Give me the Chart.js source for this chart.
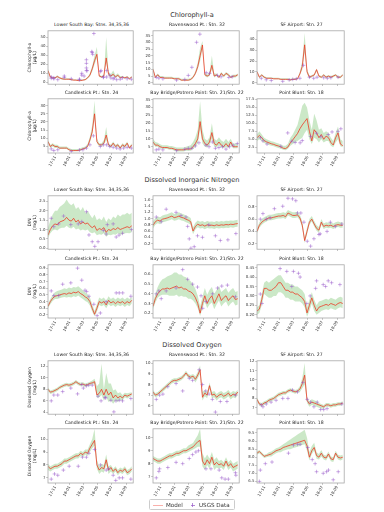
<!DOCTYPE html>
<html><head><meta charset="utf-8">
<script src="https://cdn.jsdelivr.net/npm/chart.js@4.4.1/dist/chart.umd.min.js"></script>
<style>
body{margin:0;background:#fff;font-family:'DejaVu Sans',sans-serif;}
#fig{position:relative;width:384px;height:512px;overflow:hidden;background:#fff;}
.sec{position:absolute;left:0;width:384px;text-align:center;font-size:6.6px;color:#333;line-height:8px;opacity:0.99;}
.ptitle{position:absolute;text-align:center;font-size:4.6px;color:#222;line-height:6px;white-space:nowrap;opacity:0.99;}
canvas{position:absolute;}
#legend{position:absolute;left:149px;top:499px;width:86px;height:11px;border:0.6px solid #ccc;border-radius:1.5px;box-sizing:border-box;font-size:5.6px;color:#333;opacity:0.99;}
#legend span{position:absolute;top:0;line-height:10px;}
</style></head><body><div id="fig"></div>
<script>
// ---------- shared axis data ----------
const DAYS = [0,10,20,30,40,50,60,70,80,90,100,110,120,130,140,150,160,170,180,190,200,210,220,230,240,250,260,270,280,290,300,310,320,330,340,350,360];
const X_TICK_DAYS = [32,93,152,213,274,336];
const X_TICK_LABELS = ['17-11','18-01','18-03','18-05','18-07','18-09'];
const SECTION_TITLES = ['Chlorophyll-a','Dissolved Inorganic Nitrogen','Dissolved Oxygen'];
const Y_LABELS = [['Chlorophyll-a','(µg/L)'],['DIN','(mg/L)'],['Dissolved Oxygen','(mg/L)']];
const STATIONS = ['Lower South Bay: Stns. 34,35,36','Ravenswood Pt.: Stn. 32','SF Airport: Stn. 27','Candlestick Pt.: Stn. 24','Bay Bridge/Potrero Point: Stn. 21/Stn. 22','Point Blunt: Stn. 18'];

// ---------- Chlorophyll-a ----------
const chlLsbM  = [13,6,5,5,6.5,5,4,3.5,3.5,3.5,3,2.5,2.5,2,2,2.5,3,5,8,15,24,31,7,6,7,27,9,7,9,6,8,5,6,5,6,4,6];
const chlLsbHi = [15,7,6,6,8,6,5,4.5,4.5,4.5,4,3.5,3.5,3,3,3.5,4,6,10,18,30,39,9,7,9,50,12,9,13,8,10,7,7,6,7,5,7];
const chlLsbLo = [11,5,4,4,5.5,4,3,3,3,3,2.5,2,2,1.5,1.5,2,2.5,4,6.5,12,20,27,6,5,6,22,7,6,7,5,6.5,4,5,4,5,3.5,5];
const chlLsbOx = [14,14,25,25,42,70,70,100,135,135,145,145,155,165,165,165,165,168,188,190,192,197,225,228,238,238,252,252,265,270,280,285,295,310,320,340,358];
const chlLsbOy = [6,4.5,4,5,3,5.5,7,4,3,3.5,8,10,7,13,16,21,25,13,34,33,31,54,12,13,6,5.5,13,6,8,5,4,5,3,3.5,5,4,3.5];
const chlLsbRange = [-2,57]; const chlLsbTicks = ['0','10','20','30','40','50'];

const chlRavM  = [10,4,6,4,4,3.5,3.5,3.5,3.5,3,3,3,2,2,2,2,2.5,4,7,12,20,28,6,5,6,13,5,6,4,7,5,7,6,4,5,5,6];
const chlRavHi = [11,5,7,5,5,4.5,4.5,4.5,4.5,4,4,4,3,3,3,3,3.5,5,8.5,15,26,31,8,6,8,20,7,7,5,8,6,8,7,5,6,6,7];
const chlRavLo = [9,3.5,5,3.5,3.5,3,3,3,3,2.5,2.5,2.5,1.5,1.5,1.5,1.5,2,3.5,6,10,16,25,5,4,5,10,4,5,3.5,6,4,6,5,3.5,4,4,5];
const chlRavOx = [14,25,42,100,135,150,165,185,199,226,240,274,289,322,336];
const chlRavOy = [4,3.5,3,2,2.5,5.5,11.5,30,36,7.5,7,5.5,4.5,4,4.5];
const chlRavRange = [-1,38.5]; const chlRavTicks = ['0','5','10','15','20','25','30','35'];

const chlSfaM  = [10,5,7,5,4,4,4,3.5,3.5,3.5,3,3,3,3,2.5,3,3,3.5,8,15,35,10,5,6,7,12,6,5,7,5,6,5,6,7,5,5,7];
const chlSfaHi = [11,6,8,6,5,5,5,4.5,4.5,4.5,4,4,4,4,3.5,4,4,4.5,10,20,46,13,6,7,8,13,7,6,8,6,7,6,7,8,6,6,8];
const chlSfaLo = [9,4,6,4,3.5,3.5,3.5,3,3,3,2.5,2.5,2.5,2.5,2,2.5,2.5,3,7,12,28,8,4,5,6,10,5,4,6,4,5,4,5,6,4,4,6];
const chlSfaOx = [18,39,60,108,135,150,165,180,195,220,238,252,280,295,310,340];
const chlSfaOy = [4,2.6,2,1.2,2.5,3,3.5,4,16,5,4,5,4.5,4,4.5,5];
const chlSfaRange = [-1.5,48]; const chlSfaTicks = ['0','10','20','30','40'];

const chlCanM  = [8,5,6,5,5,4,4,4,4,3,2.5,2.5,2.5,2.5,3,3.5,4,5,9,14,25,8,6,6,7,12,6,5,7,5,6,4,6,5,7,4,6];
const chlCanHi = [9,6,7,6,6,5,5,5,5,4,3.5,3.5,3.5,3.5,4,4.5,5,6.5,11,18,33,10,7,7,9,17,7,6,8,6,7,5,7,6,8,5,7];
const chlCanLo = [7,4,5,4,4,3.5,3.5,3.5,3.5,2.5,2,2,2,2,2.5,3,3.5,4.5,7.5,12,22,7,5,5,6,9,5,4,6,4,5,3.5,5,4,6,3.5,5];
const chlCanOx = [14,25,42,100,135,150,165,180,195,225,238,252,265,280,295,310,325,340,358];
const chlCanOy = [3.5,2.5,3,2,2.8,3,4,6,11.5,5,6,6,5,4.5,4,3.5,4,4.5,4];
const chlCanRange = [1,34.2]; const chlCanTicks = ['5','10','15','20','25','30'];

const chlBayM  = [8,6,6,5,4.5,4.5,4.5,4,4,3.5,3,3,3,3,3.5,3.5,3.5,5,7,10,21,10,7,6,8,14,7,6,8,6,5,7,5,8,5,5,5];
const chlBayHi = [10,8,7.5,6.5,6,6,6,5.5,5.5,5,4.5,4.5,4.5,4.5,5,5.5,6,8,11,16,34,16,10,9,11,20,10,9,11,9,8,10,8,10,7,7,7];
const chlBayLo = [7,5,5,4,3.5,3.5,3.5,3,3,2.5,2,2,2,2,2.5,2.5,2.5,3.5,5,7,16,7,5,4.5,6,10,5,4.5,6,4.5,4,5,4,6,4,4,4];
const chlBayOx = [14,25,42,100,135,150,165,180,195,225,238,252,265,280,295,310,325,340,358];
const chlBayOy = [3,3.5,3,2.5,3.5,4,4,5.5,7.5,6,5,8,4,4.5,5,3.5,5,6,7];
const chlBayRange = [1,35.5]; const chlBayTicks = ['5','10','15','20','25','30','35'];

const chlPbM  = [5.5,6.2,5.5,4.6,4.2,3.9,3.6,3.4,3.1,2.9,2.6,2.2,2.1,2.6,3.9,4.8,5.8,6.8,8.3,9.5,10.5,11.5,7.5,4.5,8,7,5.5,6.5,5,6,5.5,4,3.2,5.5,7,3.5,3];
const chlPbHi = [6.5,7.5,6.5,5.5,5,4.7,4.4,4.2,3.9,3.7,3.4,3,3,3.6,5.5,6.5,8,9.5,12.5,15.5,16.5,15,11,8,13,11,8,8.5,7,7.5,7,5.5,4.5,7,9,5,4.5];
const chlPbLo = [4.5,5,4.5,3.8,3.5,3.2,3,2.8,2.5,2.3,2,1.7,1.6,2,3,3.5,4,4.5,5,5.5,7,8,5,3.5,5.5,5,4,5,4,4.5,4.5,3,2.5,4,5,2.8,2.5];
const chlPbOx = [14,25,42,100,129,146,160,181,190,225,250,268,299,315,340,352];
const chlPbOy = [5.5,4.5,3.5,2.8,7,4.4,4,3.9,4.6,5.9,6.9,5.8,6.5,7.3,7.5,8.3];
const chlPbRange = [0.7,17.7]; const chlPbTicks = ['2.5','5.0','7.5','10.0','12.5','15.0','17.5'];

// ---------- Dissolved Inorganic Nitrogen ----------
const dinLsbM  = [0.7,1.0,1.2,1.3,1.25,1.4,1.45,1.5,1.65,1.5,1.45,1.6,1.4,1.5,1.3,1.4,1.3,1.35,1.2,1.1,1.2,0.95,1.05,1.0,1.1,0.85,1.0,0.95,1.05,1.0,1.1,1.0,1.05,1.1,1.15,1.1,1.2];
const dinLsbHi = [1.1,1.5,1.8,2.0,2.0,2.2,2.3,2.4,2.6,2.4,2.3,2.4,2.1,2.2,2.0,2.2,1.9,2.0,1.8,1.6,1.8,1.5,1.6,1.5,1.7,1.4,1.6,1.5,1.7,1.6,1.8,1.7,1.8,1.8,1.9,1.8,1.9];
const dinLsbLo = [0.55,0.8,0.95,1.0,0.95,1.05,1.1,1.1,1.2,1.1,1.05,1.15,1.0,1.05,0.95,1.0,0.95,1.0,0.85,0.8,0.85,0.7,0.75,0.72,0.8,0.62,0.72,0.7,0.75,0.72,0.8,0.72,0.75,0.8,0.82,0.8,0.85];
const dinLsbOx = [14,25,46,67,98,130,145,165,176,190,201,215,238,250,255,280,293,305,320,359];
const dinLsbOy = [1.6,1.15,1.3,1.72,1.26,1.3,1.42,1.95,0.71,0.35,0.1,0.35,0.95,0.76,1.26,1.3,0.6,0.7,0.8,1.0];
const dinLsbRange = [-0.05,2.8]; const dinLsbTicks = ['0.0','0.5','1.0','1.5','2.0','2.5'];

const dinRavM  = [0.78,0.9,0.95,0.92,0.98,1.0,1.02,1.05,1.08,1.03,1.05,1.08,1.04,1.02,0.98,0.95,0.9,0.6,0.75,0.82,0.78,0.8,0.76,0.8,0.78,0.79,0.77,0.8,0.78,0.8,0.79,0.81,0.8,0.82,0.81,0.83,0.84];
const dinRavHi = [0.9,1.02,1.07,1.04,1.1,1.12,1.14,1.17,1.2,1.15,1.17,1.2,1.16,1.14,1.1,1.07,1.02,0.72,0.87,0.94,0.9,0.92,0.88,0.92,0.9,0.91,0.89,0.92,0.9,0.92,0.91,0.93,0.92,0.94,0.93,0.95,0.96];
const dinRavLo = [0.68,0.8,0.85,0.82,0.88,0.9,0.92,0.95,0.98,0.93,0.95,0.98,0.94,0.92,0.88,0.85,0.8,0.5,0.65,0.72,0.68,0.7,0.66,0.7,0.68,0.69,0.67,0.7,0.68,0.7,0.69,0.71,0.7,0.72,0.71,0.73,0.74];
const dinRavOx = [14,35,56,98,119,140,147,154,161,175,189,210,237,265,286,318,352];
const dinRavOy = [1.05,0.9,1.3,1.2,1.1,1.05,0.75,0.35,0.05,0.1,0.45,0.4,0.8,0.45,0.3,0.32,0.52];
const dinRavRange = [0.02,1.73]; const dinRavTicks = ['0.2','0.4','0.6','0.8','1.0','1.2','1.4','1.6'];

const dinSfaM  = [0.4,0.5,0.55,0.58,0.6,0.62,0.62,0.63,0.64,0.65,0.65,0.66,0.64,0.7,0.68,0.66,0.66,0.67,0.62,0.5,0.25,0.4,0.55,0.6,0.52,0.45,0.42,0.55,0.48,0.5,0.49,0.5,0.48,0.5,0.51,0.5,0.5];
const dinSfaHi = [0.44,0.55,0.6,0.63,0.65,0.67,0.67,0.68,0.69,0.7,0.7,0.71,0.7,0.75,0.73,0.71,0.71,0.72,0.67,0.56,0.3,0.46,0.6,0.65,0.57,0.5,0.47,0.6,0.53,0.55,0.54,0.55,0.53,0.55,0.56,0.55,0.55];
const dinSfaLo = [0.37,0.46,0.51,0.54,0.56,0.58,0.58,0.59,0.6,0.61,0.61,0.62,0.6,0.66,0.64,0.62,0.62,0.63,0.58,0.45,0.21,0.35,0.51,0.56,0.48,0.41,0.38,0.51,0.44,0.46,0.45,0.46,0.44,0.46,0.47,0.46,0.46];
const dinSfaOx = [14,25,39,55,73,108,130,149,163,170,184,197,211,225,239,260,265,294,308,329,356];
const dinSfaOy = [0.6,0.69,0.6,0.62,0.77,0.81,0.94,0.93,0.9,0.7,0.7,0.55,0.24,0.16,0.28,0.35,0.36,0.4,0.55,0.48,0.52];
const dinSfaRange = [0.11,0.98]; const dinSfaTicks = ['0.2','0.4','0.6','0.8'];

const dinCanM  = [0.33,0.4,0.45,0.48,0.49,0.5,0.51,0.52,0.51,0.53,0.52,0.54,0.53,0.55,0.52,0.5,0.47,0.45,0.4,0.3,0.21,0.3,0.4,0.38,0.4,0.35,0.42,0.38,0.4,0.37,0.4,0.38,0.4,0.37,0.4,0.38,0.42];
const dinCanHi = [0.36,0.44,0.5,0.54,0.56,0.57,0.58,0.6,0.59,0.61,0.6,0.62,0.61,0.63,0.6,0.57,0.54,0.51,0.46,0.36,0.26,0.36,0.46,0.44,0.46,0.41,0.48,0.44,0.46,0.43,0.46,0.44,0.46,0.43,0.46,0.44,0.47];
const dinCanLo = [0.3,0.36,0.41,0.44,0.44,0.45,0.46,0.47,0.46,0.47,0.46,0.48,0.47,0.49,0.46,0.44,0.41,0.39,0.34,0.25,0.18,0.25,0.35,0.33,0.35,0.3,0.36,0.33,0.35,0.32,0.35,0.33,0.35,0.32,0.35,0.33,0.37];
const dinCanOx = [14,25,46,63,98,127,145,159,166,176,197,211,225,250,293,306,321,356];
const dinCanOy = [0.56,0.49,0.49,0.66,0.68,0.9,0.72,0.57,0.55,0.48,0.36,0.19,0.23,0.4,0.53,0.53,0.53,0.48];
const dinCanRange = [0.155,0.95]; const dinCanTicks = ['0.2','0.3','0.4','0.5','0.6','0.7','0.8','0.9'];

const dinBayM  = [0.27,0.35,0.4,0.43,0.45,0.45,0.46,0.45,0.46,0.47,0.48,0.46,0.47,0.45,0.45,0.43,0.42,0.4,0.36,0.3,0.2,0.3,0.38,0.3,0.35,0.38,0.3,0.35,0.4,0.33,0.36,0.38,0.33,0.36,0.38,0.34,0.35];
const dinBayHi = [0.3,0.4,0.47,0.52,0.55,0.56,0.58,0.59,0.6,0.62,0.62,0.6,0.6,0.58,0.57,0.55,0.53,0.5,0.45,0.38,0.27,0.37,0.46,0.39,0.44,0.47,0.4,0.44,0.48,0.42,0.44,0.46,0.41,0.44,0.46,0.42,0.43];
const dinBayLo = [0.24,0.31,0.36,0.38,0.39,0.39,0.39,0.38,0.38,0.38,0.39,0.37,0.38,0.37,0.37,0.35,0.35,0.33,0.3,0.25,0.17,0.25,0.32,0.25,0.29,0.31,0.24,0.29,0.33,0.27,0.3,0.32,0.27,0.3,0.32,0.28,0.29];
const dinBayOx = [14,25,35,56,98,126,147,168,189,204,211,225,253,274,292,316,350];
const dinBayOy = [0.4,0.43,0.35,0.43,0.46,0.65,0.55,0.5,0.47,0.38,0.25,0.32,0.4,0.46,0.48,0.49,0.37];
const dinBayRange = [0.15,0.7]; const dinBayTicks = ['0.2','0.3','0.4','0.5','0.6'];

const dinPbM  = [0.22,0.23,0.28,0.34,0.34,0.33,0.33,0.34,0.35,0.37,0.37,0.35,0.33,0.33,0.32,0.32,0.31,0.31,0.3,0.29,0.27,0.21,0.25,0.29,0.25,0.22,0.24,0.245,0.25,0.255,0.25,0.26,0.255,0.25,0.26,0.265,0.26];
const dinPbHi = [0.24,0.25,0.31,0.37,0.38,0.37,0.38,0.39,0.4,0.41,0.41,0.39,0.37,0.37,0.36,0.36,0.35,0.35,0.34,0.33,0.31,0.24,0.28,0.32,0.28,0.25,0.27,0.275,0.28,0.285,0.28,0.29,0.285,0.28,0.29,0.295,0.29];
const dinPbLo = [0.2,0.21,0.25,0.31,0.3,0.29,0.29,0.3,0.3,0.32,0.32,0.31,0.29,0.29,0.28,0.28,0.27,0.27,0.27,0.26,0.24,0.19,0.22,0.26,0.22,0.2,0.21,0.22,0.225,0.23,0.225,0.235,0.23,0.225,0.235,0.24,0.235];
const dinPbOx = [14,21,97,125,146,153,174,181,209,223,246,250,278,288,299,313,348];
const dinPbOy = [0.31,0.26,0.445,0.43,0.35,0.43,0.42,0.4,0.26,0.3,0.34,0.38,0.36,0.35,0.38,0.37,0.36];
const dinPbRange = [0.183,0.465]; const dinPbTicks = ['0.20','0.25','0.30','0.35','0.40','0.45'];

// ---------- Dissolved Oxygen ----------
const doLsbM  = [8,7.5,7.6,7.8,8.0,8.3,8.5,8.7,8.8,8.7,8.8,9.0,9.3,9.0,8.8,8.9,8.7,8.8,9.0,9.1,9.3,7.0,7.3,8.0,7.0,8.0,7.0,7.5,6.5,7.0,6.5,6.8,6.5,7.0,6.8,7.0,7.2];
const doLsbHi = [8.3,7.8,7.9,8.1,8.3,8.6,8.8,9.0,9.1,9.0,9.1,9.3,9.6,9.3,9.1,9.2,9.0,9.1,9.3,9.5,9.8,8.5,9.0,12.4,8.0,10.8,9.0,9.0,7.8,8.0,7.3,7.5,7.0,7.4,7.3,7.4,7.5];
const doLsbLo = [7.7,7.2,7.3,7.5,7.7,8.0,8.2,8.4,8.5,8.4,8.5,8.7,9.0,8.7,8.5,8.6,8.4,8.5,8.7,8.8,8.9,6.5,6.6,7.0,6.0,6.7,5.8,6.0,5.5,6.0,5.8,6.2,6.0,6.6,6.4,6.6,6.9];
const doLsbOx = [14,25,42,63,98,127,145,152,165,175,190,215,228,245,248,270,283,292,306,320,356];
const doLsbOy = [6.0,7.0,7.0,7.6,8.2,7.2,8.8,8.2,8.6,8.7,8.7,6.8,6.0,6.6,6.5,6.1,4.1,6.0,6.1,6.0,6.4];
const doLsbRange = [3.7,12.9]; const doLsbTicks = ['4','6','8','10','12'];

const doRavM  = [7.3,7.0,7.1,7.3,7.5,7.7,7.9,8.1,8.3,8.4,8.4,8.5,8.6,8.8,9.1,8.8,8.7,8.8,8.5,8.9,9.4,6.8,7.2,7.0,7.9,7.0,7.1,6.8,7.0,7.1,6.9,7.0,7.2,6.9,7.1,7.0,7.3];
const doRavHi = [7.5,7.2,7.3,7.5,7.7,7.9,8.1,8.3,8.5,8.6,8.6,8.7,8.8,9.0,9.3,9.0,8.9,9.0,8.8,9.2,9.8,7.3,7.5,7.3,8.2,7.3,7.4,7.1,7.3,7.4,7.2,7.3,7.5,7.2,7.4,7.3,7.5];
const doRavLo = [7.1,6.8,6.9,7.1,7.3,7.5,7.7,7.9,8.1,8.2,8.2,8.3,8.4,8.6,8.9,8.6,8.5,8.6,8.2,8.6,9.0,6.5,6.9,6.7,7.6,6.7,6.8,6.5,6.7,6.8,6.6,6.7,6.9,6.6,6.8,6.7,7.0];
const doRavOx = [14,28,42,63,98,126,154,168,196,210,224,238,252,265,286,314,350];
const doRavOy = [6.6,7.0,7.1,7.8,8.1,7.4,8.6,8.4,9.4,8.0,7.4,7.1,6.6,5.4,6.4,6.4,7.0];
const doRavRange = [5.2,10.25]; const doRavTicks = ['6','7','8','9','10'];

const doSfaM  = [7.9,7.4,7.3,7.5,7.6,7.8,7.9,8.0,8.2,8.4,8.5,8.6,8.6,8.8,8.9,8.8,8.7,8.8,9.0,9.6,10.5,7.8,7.4,7.6,7.5,7.4,7.3,7.2,7.1,7.3,7.3,7.2,7.3,7.3,7.4,7.4,7.5];
const doSfaHi = [8.1,7.6,7.5,7.7,7.8,8.0,8.1,8.2,8.4,8.6,8.7,8.8,8.8,9.0,9.1,9.0,8.9,9.0,9.3,10.2,11.8,8.1,7.7,7.9,7.8,7.7,7.5,7.4,7.3,7.5,7.5,7.4,7.5,7.5,7.6,7.6,7.7];
const doSfaLo = [7.7,7.2,7.1,7.3,7.4,7.6,7.7,7.8,8.0,8.2,8.3,8.4,8.4,8.6,8.7,8.6,8.5,8.6,8.7,9.1,9.5,7.5,7.1,7.3,7.2,7.1,7.0,6.9,6.9,7.1,7.1,7.0,7.1,7.1,7.2,7.2,7.3];
const doSfaOx = [18,25,39,59,80,108,130,149,170,193,211,225,239,253,267,280,294,356];
const doSfaOy = [7.3,7.1,7.4,7.6,7.8,8.0,8.0,8.9,8.7,9.7,7.9,7.6,7.1,7.6,6.8,6.8,6.9,7.4];
const doSfaRange = [6.3,12.05]; const doSfaTicks = ['7','8','9','10','11','12'];

const doCanM  = [7.9,7.7,7.8,7.9,7.9,8.0,8.1,8.3,8.3,8.4,8.5,8.6,8.7,8.7,8.9,8.8,9.0,8.9,9.3,9.6,9.9,8.0,7.6,7.8,7.7,8.4,7.6,7.8,7.5,7.7,7.4,7.6,7.5,7.7,7.4,7.5,7.7];
const doCanHi = [8.1,7.9,8.0,8.1,8.1,8.2,8.3,8.5,8.5,8.6,8.7,8.8,8.9,8.9,9.1,9.0,9.2,9.2,9.6,10.0,10.8,8.4,7.9,8.1,8.0,8.8,7.9,8.0,7.7,7.9,7.6,7.8,7.7,7.9,7.6,7.7,7.9];
const doCanLo = [7.6,7.5,7.6,7.7,7.7,7.8,7.9,8.1,8.1,8.2,8.3,8.4,8.5,8.5,8.7,8.6,8.8,8.7,9.0,9.3,9.5,7.7,7.3,7.5,7.4,8.0,7.3,7.5,7.3,7.5,7.2,7.4,7.3,7.5,7.2,7.3,7.5];
const doCanOx = [14,28,42,66,91,130,148,165,176,200,225,250,260,280,291,306,320,356];
const doCanOy = [6.9,7.3,7.2,7.6,7.9,7.9,8.6,8.6,8.9,9.2,8.0,7.6,7.7,7.2,6.8,7.0,7.0,6.9];
const doCanRange = [6.6,10.8]; const doCanTicks = ['7','8','9','10'];

const doBayM  = [8.4,8.3,8.2,8.2,8.3,8.4,8.5,8.6,8.6,8.7,8.8,8.8,8.9,9.0,9.0,9.1,9.2,9.3,9.5,9.7,9.8,8.2,7.9,8.3,8.0,8.5,7.9,8.1,7.9,8.0,7.8,8.2,7.8,8.0,7.7,7.8,7.9];
const doBayHi = [8.6,8.5,8.4,8.4,8.5,8.6,8.7,8.8,8.8,8.9,9.0,9.0,9.1,9.2,9.2,9.4,9.5,9.6,9.9,10.2,10.7,8.8,8.4,8.7,8.4,8.9,8.3,8.5,8.2,8.3,8.1,8.5,8.1,8.3,8.0,8.1,8.2];
const doBayLo = [8.2,8.1,8.0,8.0,8.1,8.2,8.3,8.4,8.4,8.5,8.6,8.6,8.7,8.8,8.8,8.9,9.0,9.1,9.2,9.3,9.3,7.8,7.5,7.9,7.6,8.1,7.5,7.7,7.6,7.7,7.5,7.9,7.5,7.7,7.4,7.5,7.6];
const doBayOx = [14,25,28,63,98,126,154,168,182,193,225,246,281,292,306,320,350,352];
const doBayOy = [6.9,7.4,7.6,7.7,8.1,8.0,8.4,8.7,8.9,9.0,7.6,7.6,7.5,6.9,6.8,6.8,7.3,7.1];
const doBayRange = [6.5,10.7]; const doBayTicks = ['7','8','9','10'];

const doPbM  = [8.25,8.35,8.2,8.05,8.1,8.15,8.2,8.3,8.4,8.45,8.5,8.6,8.65,8.7,8.75,8.8,8.85,8.9,8.95,9.0,9.05,8.7,8.0,8.4,8.6,8.1,8.0,8.25,8.0,7.95,8.2,7.9,7.85,8.25,8.0,7.95,8.0];
const doPbHi = [8.35,8.45,8.3,8.15,8.2,8.3,8.35,8.45,8.55,8.6,8.7,8.8,8.9,9.0,9.1,9.2,9.3,9.4,9.5,9.6,9.7,9.2,8.3,8.7,8.9,8.3,8.2,8.45,8.15,8.1,8.35,8.05,8.0,8.4,8.15,8.1,8.15];
const doPbLo = [8.15,8.25,8.1,7.95,8.0,8.05,8.05,8.15,8.25,8.3,8.3,8.4,8.45,8.5,8.5,8.55,8.6,8.65,8.7,8.75,8.8,8.4,7.8,8.2,8.4,7.9,7.85,8.05,7.85,7.8,8.05,7.75,7.7,8.1,7.85,7.8,7.85];
const doPbOx = [10,14,35,63,132,153,170,181,213,232,244,250,278,292,300,320,341];
const doPbOy = [6.5,7.2,7.6,7.7,8.25,8.75,8.8,8.8,8.6,7.85,7.6,7.1,7.0,7.1,7.2,6.6,7.1];
const doPbRange = [6.4,9.76]; const doPbTicks = ['6.5','7.0','7.5','8.0','8.5','9.0','9.5'];

// ---------- panel table (built from the arrays above) ----------
const PANELS = [
  [chlLsbM,chlLsbLo,chlLsbHi,chlLsbOx,chlLsbOy,chlLsbRange,chlLsbTicks],
  [chlRavM,chlRavLo,chlRavHi,chlRavOx,chlRavOy,chlRavRange,chlRavTicks],
  [chlSfaM,chlSfaLo,chlSfaHi,chlSfaOx,chlSfaOy,chlSfaRange,chlSfaTicks],
  [chlCanM,chlCanLo,chlCanHi,chlCanOx,chlCanOy,chlCanRange,chlCanTicks],
  [chlBayM,chlBayLo,chlBayHi,chlBayOx,chlBayOy,chlBayRange,chlBayTicks],
  [chlPbM,chlPbLo,chlPbHi,chlPbOx,chlPbOy,chlPbRange,chlPbTicks],
  [dinLsbM,dinLsbLo,dinLsbHi,dinLsbOx,dinLsbOy,dinLsbRange,dinLsbTicks],
  [dinRavM,dinRavLo,dinRavHi,dinRavOx,dinRavOy,dinRavRange,dinRavTicks],
  [dinSfaM,dinSfaLo,dinSfaHi,dinSfaOx,dinSfaOy,dinSfaRange,dinSfaTicks],
  [dinCanM,dinCanLo,dinCanHi,dinCanOx,dinCanOy,dinCanRange,dinCanTicks],
  [dinBayM,dinBayLo,dinBayHi,dinBayOx,dinBayOy,dinBayRange,dinBayTicks],
  [dinPbM,dinPbLo,dinPbHi,dinPbOx,dinPbOy,dinPbRange,dinPbTicks],
  [doLsbM,doLsbLo,doLsbHi,doLsbOx,doLsbOy,doLsbRange,doLsbTicks],
  [doRavM,doRavLo,doRavHi,doRavOx,doRavOy,doRavRange,doRavTicks],
  [doSfaM,doSfaLo,doSfaHi,doSfaOx,doSfaOy,doSfaRange,doSfaTicks],
  [doCanM,doCanLo,doCanHi,doCanOx,doCanOy,doCanRange,doCanTicks],
  [doBayM,doBayLo,doBayHi,doBayOx,doBayOy,doBayRange,doBayTicks],
  [doPbM,doPbLo,doPbHi,doPbOx,doPbOy,doPbRange,doPbTicks]
];

// ---------- layout (pixels) ----------
const COL_L = [48,153,257], COL_R = [135,241,346];
const ROW_T = [29,97,194,263,359,427], ROW_B = [86,153,251,318,416,483];
const SEC_Y = [11,176,341];
const FONT = "'DejaVu Sans', sans-serif";
const fig = document.getElementById('fig');

SECTION_TITLES.forEach((t,i)=>{
  const d=document.createElement('div'); d.className='sec'; d.style.top=SEC_Y[i]+'px'; d.textContent=t; fig.appendChild(d);
});

const framePlugin = {
  id:'frame',
  afterDraw(chart){
    const a=chart.chartArea, c=chart.ctx;
    c.save(); c.strokeStyle='#a8a8a8'; c.lineWidth=0.8;
    c.strokeRect(a.left, a.top, a.right-a.left, a.bottom-a.top);
    c.restore();
  }
};

const zip = (xs,ys)=>xs.map((x,i)=>({x:x,y:ys[i]}));

PANELS.forEach((p,idx)=>{
  const [m,lo,hi,ox,oy,range,ticks] = p;
  const row = Math.floor(idx/3), col = idx%3, sec = Math.floor(row/2);
  const bottomRow = row%2===1;
  const L=COL_L[col], R=COL_R[col], T=ROW_T[row], B=ROW_B[row];
  const yW = col===0 ? 21 : 13, padT = 3, padR = 3, xH = bottomRow ? 20 : 3;
  const W = yW + (R-L) + padR, H = padT + (B-T) + xH;

  const tdiv=document.createElement('div'); tdiv.className='ptitle';
  tdiv.style.left=(L-20)+'px'; tdiv.style.width=(R-L+40)+'px'; tdiv.style.top=(T-6.6)+'px';
  tdiv.textContent=STATIONS[idx%6]; fig.appendChild(tdiv);

  const cv=document.createElement('canvas'); cv.width=W; cv.height=H;
  cv.style.left=(L-yW)+'px'; cv.style.top=(T-padT)+'px'; cv.style.width=W+'px'; cv.style.height=H+'px';
  fig.appendChild(cv);
  const tickVals = ticks.map(Number);

  new Chart(cv, {
    type:'line',
    data:{datasets:[
      {data:zip(DAYS,hi), borderWidth:0, pointRadius:0, backgroundColor:'rgba(140,205,130,0.45)', fill:'+1', order:3},
      {data:zip(DAYS,lo), borderWidth:0, pointRadius:0, fill:false, order:3},
      {data:zip(DAYS,m), borderColor:'rgba(238,50,30,0.85)', borderWidth:0.9, pointRadius:0, fill:false, order:2},
      {data:zip(ox,oy), showLine:false, pointStyle:'cross', pointRadius:1.9, pointBorderWidth:0.8,
       pointBorderColor:'rgba(150,85,200,0.6)', pointBackgroundColor:'rgba(150,85,200,0.6)', order:1}
    ]},
    options:{
      responsive:false, animation:false, events:[], devicePixelRatio:1,
      layout:{padding:{top:padT,right:padR,left:0,bottom:0}},
      elements:{line:{tension:0}},
      plugins:{legend:{display:false}, tooltip:{enabled:false}},
      scales:{
        x:{type:'linear', min:0, max:366,
          afterBuildTicks:s=>{s.ticks=X_TICK_DAYS.map(v=>({value:v}));},
          afterFit:s=>{s.height=xH; s.paddingLeft=0; s.paddingRight=0;},
          border:{display:false},
          grid:{drawOnChartArea:false, drawTicks:true, tickLength:1.8, color:'#999', lineWidth:0.6},
          ticks:{display:bottomRow, autoSkip:false, minRotation:bottomRow?60:0, maxRotation:bottomRow?60:0,
            padding:0.5, color:'#333', font:{family:FONT,size:3.9},
            callback:(v,i)=>bottomRow?X_TICK_LABELS[i]:''}
        },
        y:{type:'linear', min:range[0], max:range[1],
          afterBuildTicks:s=>{s.ticks=tickVals.map(v=>({value:v}));},
          afterFit:s=>{s.width=yW; s.paddingTop=0; s.paddingBottom=0;},
          border:{display:false},
          grid:{drawOnChartArea:false, drawTicks:true, tickLength:1.8, color:'#999', lineWidth:0.6},
          ticks:{autoSkip:false, padding:0.8, color:'#333', font:{family:FONT,size:3.9},
            callback:(v,i)=>ticks[i]},
          title:{display:col===0, text:Y_LABELS[sec], padding:0, color:'#222', font:{family:FONT,size:4.5,lineHeight:1.15}}
        }
      }
    },
    plugins:[framePlugin]
  });
});

// ---------- legend ----------
const lg=document.createElement('div'); lg.id='legend';
lg.innerHTML='<div style="position:absolute;left:3px;top:4.6px;width:10px;height:1.4px;background:rgba(245,110,100,0.55)"></div>'+
 '<span style="left:16px">Model</span>'+
 '<div style="position:absolute;left:40.5px;top:4.7px;width:4px;height:0.8px;background:rgba(150,85,200,0.7)"></div>'+
 '<div style="position:absolute;left:42.1px;top:3.1px;width:0.8px;height:4px;background:rgba(150,85,200,0.7)"></div>'+
 '<span style="left:49px">USGS Data</span>';
fig.appendChild(lg);
</script></body></html>
